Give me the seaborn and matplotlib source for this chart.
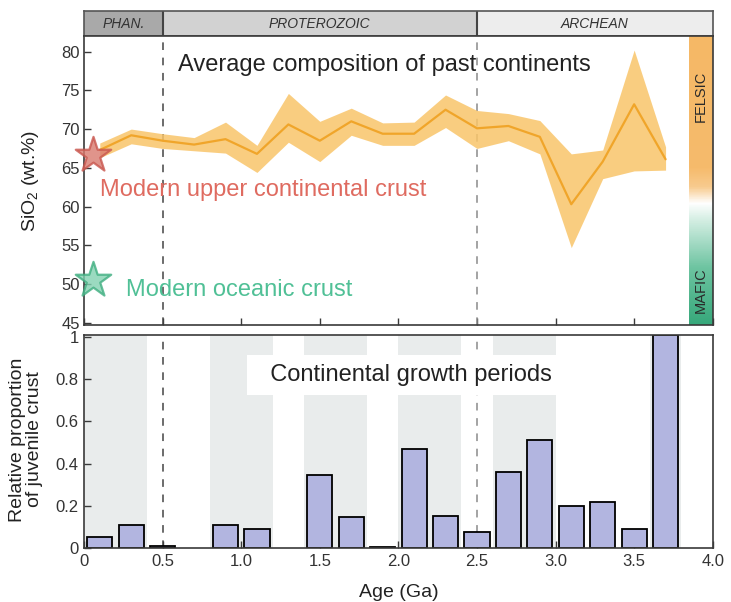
import numpy as np
import pandas as pd
import matplotlib
matplotlib.use("Agg")
import matplotlib.pyplot as plt
import seaborn as sns
from matplotlib.colors import LinearSegmentedColormap

sns.set_theme(style="white")
plt.rcParams["font.family"] = ["Liberation Sans", "DejaVu Sans"]
plt.rcParams["mathtext.default"] = "regular"

# ---------------- data ----------------
ages = [0.1, 0.3, 0.5, 0.7, 0.9, 1.1, 1.3, 1.5, 1.7, 1.9,
        2.1, 2.3, 2.5, 2.7, 2.9, 3.1, 3.3, 3.5, 3.7]
sio2_mean = [67.3, 69.2, 68.5, 68.0, 68.7, 66.8, 70.6, 68.5, 71.0, 69.4,
             69.4, 72.5, 70.1, 70.4, 69.0, 60.3, 65.8, 73.2, 66.1]
sio2_low = [66.3, 68.1, 67.5, 67.2, 66.9, 64.4, 68.3, 65.8, 69.2, 67.9,
            67.9, 70.2, 67.5, 68.5, 66.8, 54.7, 63.6, 64.6, 64.7]
sio2_high = [68.2, 70.0, 69.4, 68.9, 70.9, 67.9, 74.6, 71.0, 72.7, 70.8,
             70.9, 74.4, 72.4, 72.0, 71.1, 66.8, 67.3, 80.2, 67.7]

bar_age = [0.1, 0.3, 0.5, 0.9, 1.1, 1.5, 1.7, 1.9, 2.1, 2.3,
           2.5, 2.7, 2.9, 3.1, 3.3, 3.5, 3.7]
bar_prop = [0.054, 0.109, 0.008, 0.109, 0.089, 0.347, 0.148, 0.003, 0.467, 0.152,
            0.078, 0.358, 0.510, 0.198, 0.218, 0.090, 1.01]

growth_start = [0.0, 0.8, 1.4, 2.0, 2.6, 3.6]
growth_end = [0.4, 1.2, 1.8, 2.4, 3.0, 3.8]

period_names = ["PHAN.", "PROTEROZOIC", "ARCHEAN"]
period_start = [0.0, 0.5, 2.5]
period_end = [0.5, 2.5, 4.0]
period_colors = ["#a9a9a9", "#d2d2d2", "#ededed"]

ucc_age, ucc_sio2 = 0.057, 66.6
oc_age, oc_sio2 = 0.057, 50.5

xticks = [0, 0.5, 1.0, 1.5, 2.0, 2.5, 3.0, 3.5, 4.0]
xticklabels = ["0", "0.5", "1.0", "1.5", "2.0", "2.5", "3.0", "3.5", "4.0"]
yticks_top = [45, 50, 55, 60, 65, 70, 75, 80]
yticks_bot = [0, 0.2, 0.4, 0.6, 0.8, 1.0]
yticklabels_bot = ["0", "0.2", "0.4", "0.6", "0.8", "1"]

# ---------------- figure ----------------
fig = plt.figure(figsize=(7.31, 6.02), dpi=100)
L, W = 0.115, 0.86
ax_head = fig.add_axes([L, 0.940, W, 0.041])
ax1 = fig.add_axes([L, 0.460, W, 0.480])
ax2 = fig.add_axes([L, 0.0897, W, 0.354])

XMIN, XMAX = 0.0, 4.0
Y0, Y1 = 44.7, 82.0
spine_c = "#3a3a3a"
tick_c = "#333333"

# header
for name, s, e, c in zip(period_names, period_start, period_end, period_colors):
    ax_head.axvspan(s, e, color=c, zorder=0)
    ax_head.text((s + e) / 2, 0.5, name, ha="center", va="center",
                 fontsize=10, style="italic", color="#333333")
for s in period_start[1:]:
    ax_head.axvline(s, color="#444444", lw=1.5)
ax_head.set_xlim(XMIN, XMAX)
ax_head.set_ylim(0, 1)
ax_head.set_xticks([])
ax_head.set_yticks([])
for sp in ax_head.spines.values():
    sp.set_color("#555555")
    sp.set_linewidth(1.2)

# top panel
ax1.fill_between(ages, sio2_low, sio2_high, color="#f9c56a", alpha=0.85,
                 lw=0, zorder=2)
sns.lineplot(x=ages, y=sio2_mean, color="#f0a52a", lw=1.6, ax=ax1, zorder=3)

grad = np.linspace(Y0, Y1, 400)[:, None]
def f(v):
    return (v - Y0) / (Y1 - Y0)
cmap = LinearSegmentedColormap.from_list(
    "fm", [(0, "#37a87b"), (f(52), "#6dc4a1"), (f(58.5), "#d9f0e6"),
           (f(60.4), "#ffffff"), (f(62.5), "#f8cb8f"), (f(65), "#f6bb6c"),
           (1, "#f5b866")])
ax1.imshow(grad, extent=[3.85, 4.0, Y0, Y1], origin="lower", aspect="auto",
           cmap=cmap, vmin=Y0, vmax=Y1, zorder=1)
ax1.text(3.925, 74.2, "FELSIC", rotation=90, ha="center", va="center",
         fontsize=10.5, color="#2a2a2a", zorder=4)
ax1.text(3.925, 49.2, "MAFIC", rotation=90, ha="center", va="center",
         fontsize=10.5, color="#2a2a2a", zorder=4)

for xv, c in [(0.5, "#444444"), (2.5, "#8a8a8a")]:
    ax1.axvline(xv, color=c, lw=1.1, ls=(0, (5, 5)), zorder=1.5)
    ax2.axvline(xv, color=c, lw=1.1, ls=(0, (5, 5)), zorder=1.5)

sns.scatterplot(x=[ucc_age], y=[ucc_sio2], marker="*", s=720,
                color="#d97a6e", edgecolor="#c9564e", linewidth=1.6,
                alpha=0.8, ax=ax1, clip_on=False, zorder=6)
sns.scatterplot(x=[oc_age], y=[oc_sio2], marker="*", s=720,
                color="#82d1b1", edgecolor="#3fae80", linewidth=1.6,
                alpha=0.8, ax=ax1, clip_on=False, zorder=6)

ax1.text(1.91, 78.3, "Average composition of past continents", ha="center",
         va="center", fontsize=17, color="#222222")
ax1.text(0.10, 62.1, "Modern upper continental crust", ha="left",
         va="center", fontsize=17, color="#df6b60")
ax1.text(0.27, 49.2, "Modern oceanic crust", ha="left", va="center",
         fontsize=17, color="#50c096")

ax1.set_xlim(XMIN, XMAX)
ax1.set_ylim(Y0, Y1)
ax1.set_xticks(xticks)
ax1.set_yticks(yticks_top)
ax1.tick_params(axis="both", direction="in", length=5, width=1,
                color=spine_c, labelsize=12, labelcolor=tick_c,
                labelbottom=False, left=True, bottom=True, pad=3)
ax1.set_ylabel("SiO$_2$ (wt.%)", fontsize=14, color="#222222")
ax1.yaxis.set_label_coords(-0.068, 0.5)
for sp in ax1.spines.values():
    sp.set_color(spine_c)
    sp.set_linewidth(1.2)

# bottom panel
for s, e in zip(growth_start, growth_end):
    ax2.axvspan(s, e, color="#e9ecec", lw=0, zorder=0)
sns.barplot(x=bar_age, y=bar_prop, native_scale=True, orient="x", width=0.8,
            color="#b2b5e0", saturation=1, edgecolor="black", linewidth=1.3,
            ax=ax2, zorder=2)
ax2.text(2.08, 0.82, "  Continental growth periods  ", ha="center",
         va="center", fontsize=17, color="#222222", zorder=3,
         bbox=dict(boxstyle="square,pad=0.4", fc="white", ec="none"))
ax2.set_xlim(XMIN, XMAX)
ax2.set_ylim(0, 1.01)
ax2.set_xticks(xticks)
ax2.set_xticklabels(xticklabels)
ax2.set_yticks(yticks_bot)
ax2.set_yticklabels(yticklabels_bot)
ax2.tick_params(axis="both", direction="in", length=5, width=1,
                color=spine_c, labelsize=12, labelcolor=tick_c,
                left=True, bottom=True, pad=4)
ax2.set_xlabel("Age (Ga)", fontsize=14, color="#222222")
ax2.xaxis.set_label_coords(0.5, -0.17)
ax2.set_ylabel("Relative proportion\nof juvenile crust", fontsize=14,
               color="#222222", linespacing=1.05)
ax2.yaxis.set_label_coords(-0.065, 0.51)
for sp in ax2.spines.values():
    sp.set_color(spine_c)
    sp.set_linewidth(1.2)

fig.savefig("out.png", dpi=100)
